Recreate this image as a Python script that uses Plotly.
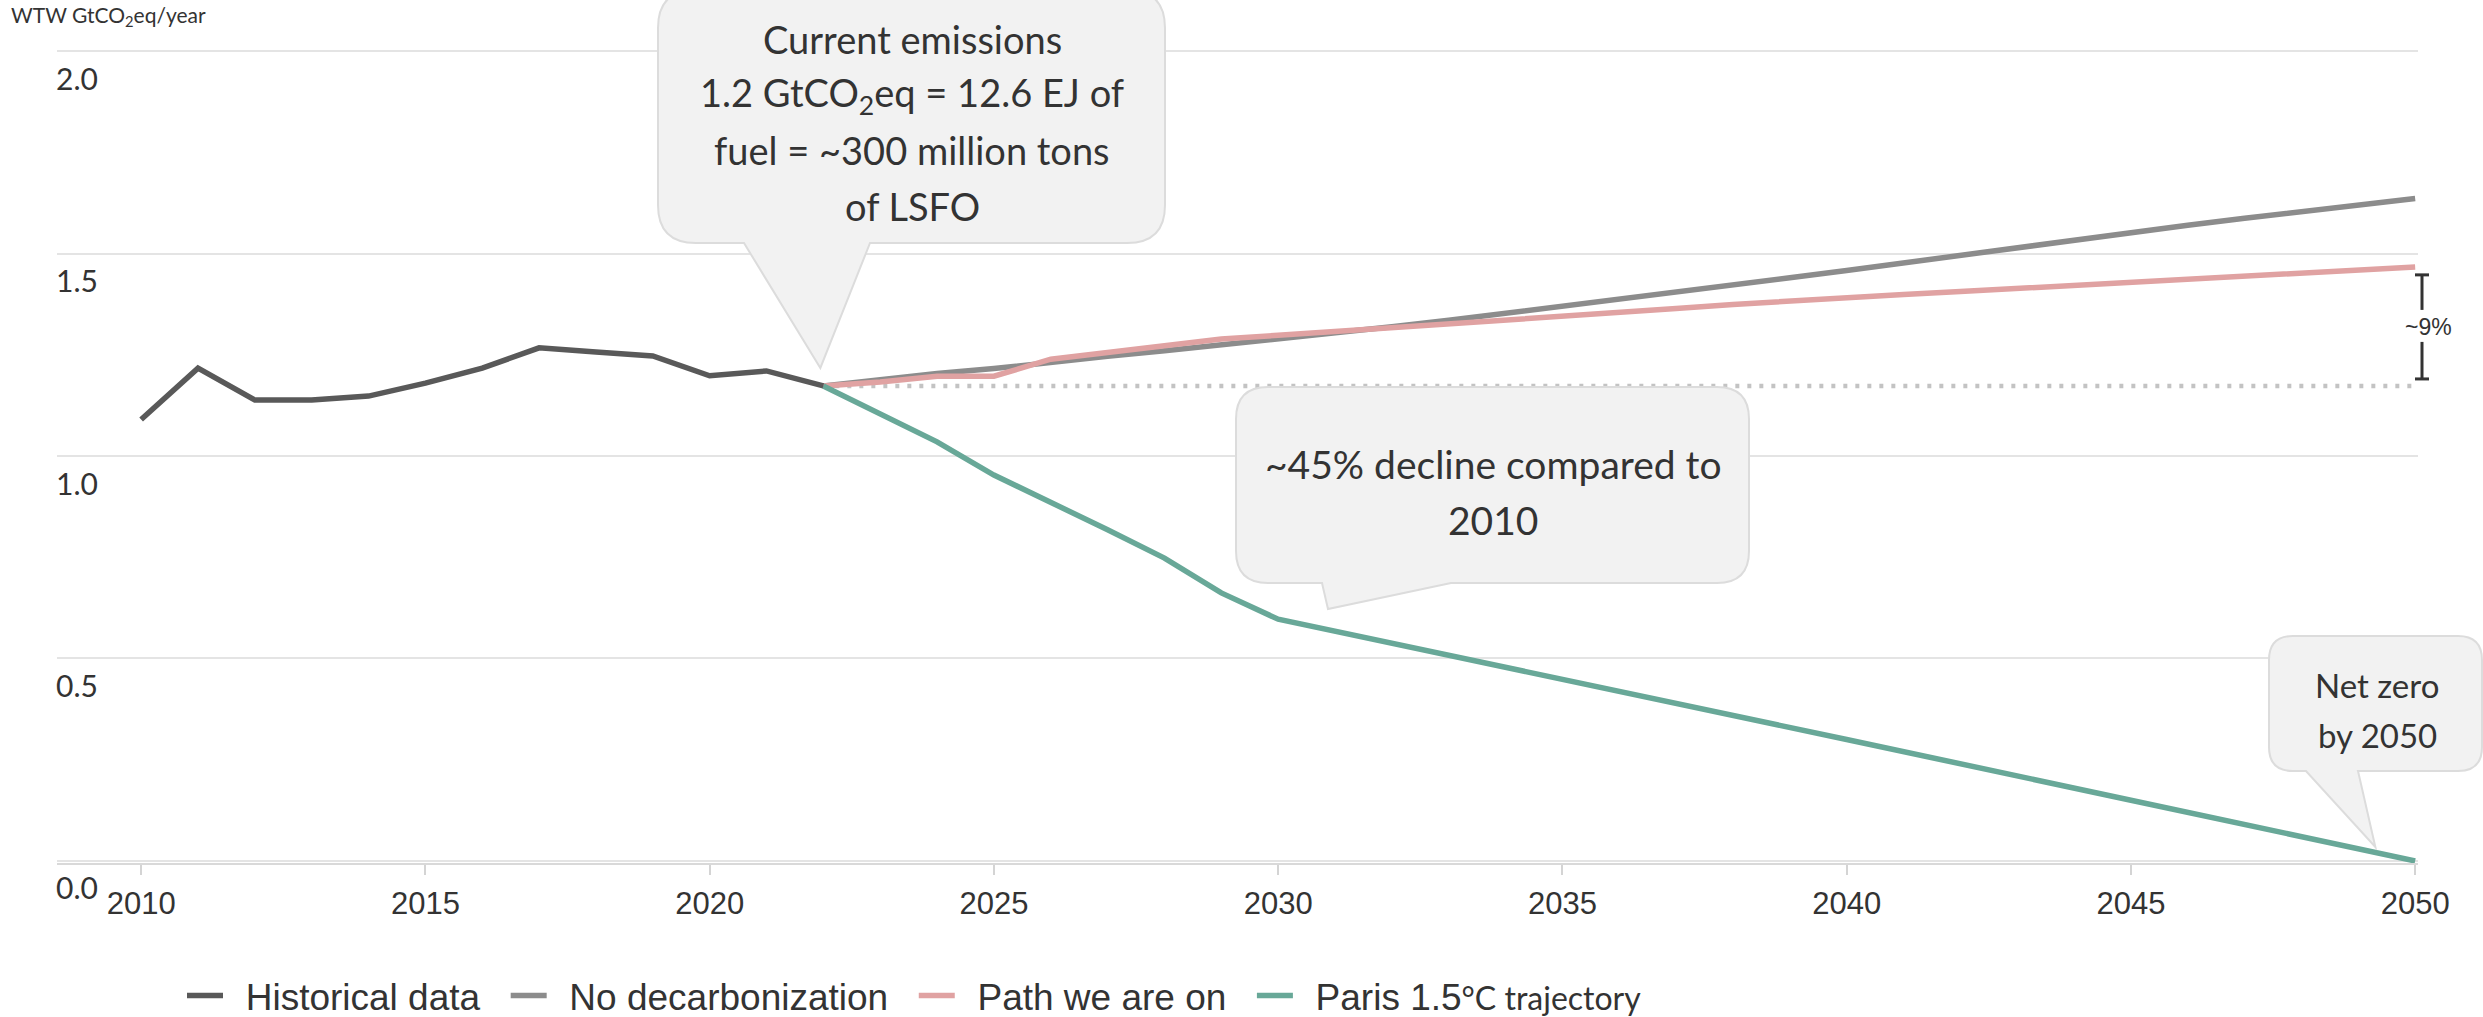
import plotly.graph_objects as go

# ---------------- data ----------------
years_hist = list(range(2010, 2023))
historical = [1.090, 1.217, 1.138, 1.138, 1.148, 1.180, 1.217, 1.267, 1.257, 1.247, 1.198, 1.210, 1.173]

years_proj = list(range(2022, 2051))
no_decarbonization = [1.173, 1.190, 1.204, 1.216, 1.232, 1.246, 1.260, 1.274, 1.289, 1.304,
                      1.319, 1.335, 1.352, 1.369, 1.386, 1.404, 1.422, 1.440, 1.458, 1.477,
                      1.496, 1.515, 1.534, 1.552, 1.570, 1.587, 1.604, 1.620, 1.636]
path_we_are_on = [1.173, 1.183, 1.197, 1.197, 1.239, 1.256, 1.274, 1.289, 1.298, 1.307,
                  1.317, 1.326, 1.336, 1.345, 1.355, 1.364, 1.374, 1.383, 1.391, 1.399,
                  1.406, 1.414, 1.422, 1.429, 1.437, 1.444, 1.452, 1.459, 1.467]

years_paris = [2022, 2023, 2024, 2025, 2026, 2027, 2028, 2029, 2030, 2035, 2040, 2045, 2050]
paris = [1.173, 1.105, 1.035, 0.953, 0.886, 0.818, 0.748, 0.662, 0.597, 0.450, 0.300, 0.150, 0.000]

x_ticks = [2010, 2015, 2020, 2025, 2030, 2035, 2040, 2045, 2050]
y_ticks = [0.0, 0.5, 1.0, 1.5, 2.0]
y_ticktext = ["0.0", "0.5", "1.0", "1.5", "2.0"]

NB = "\u00a0"
TH = "\u2009"
names = [NB + TH + "Historical data" + NB * 2,
         NB + TH + "No decarbonization" + NB * 2,
         NB + TH + "Path we are on" + NB * 2,
         NB + TH + "Paris 1.5<span style='font-family:Lato;font-size:32px'>°C trajectory</span>"]

# ---------------- layout geometry ----------------
W, H = 2483, 1017
X0, X1 = 2008.52, 2050.05
Y0, Y1 = -0.005, 2.005
ML, MR, MT, MB = 57, 65, 49, 154
PW, PH = W - ML - MR, H - MT - MB


def xpx(v):
    return ML + (v - X0) / (X1 - X0) * PW


def ypx(v):
    return H - MB - (v - Y0) / (Y1 - Y0) * PH


def px_x(p):
    return (p - ML) / PW


def px_y(p):
    return (H - MB - p) / PH


def bubble(l, t, r, b, rad, base1, base2, tip):
    def P(x, y):
        return f"{px_x(x):.6f},{px_y(y):.6f}"
    s = "M" + P(l + rad, t)
    s += " L" + P(r - rad, t)
    s += " Q" + P(r, t) + " " + P(r, t + rad)
    s += " L" + P(r, b - rad)
    s += " Q" + P(r, b) + " " + P(r - rad, b)
    s += " L" + P(base2, b)
    s += " L" + P(tip[0], tip[1])
    s += " L" + P(base1, b)
    s += " L" + P(l + rad, b)
    s += " Q" + P(l, b) + " " + P(l, b - rad)
    s += " L" + P(l, t + rad)
    s += " Q" + P(l, t) + " " + P(l + rad, t)
    s += " Z"
    return s


TEXT = "#333333"
fig = go.Figure()

level = historical[-1]
fig.add_trace(go.Scatter(x=[years_proj[0], years_proj[-1]], y=[level, level], mode="lines",
                         line=dict(color="#c3c3c3", width=4.5, dash="4px,8px"),
                         showlegend=False, hoverinfo="skip"))
fig.add_trace(go.Scatter(x=years_proj, y=no_decarbonization, mode="lines", name=names[1],
                         line=dict(color="#8c8c8c", width=5.5), legendrank=2))
fig.add_trace(go.Scatter(x=years_proj, y=path_we_are_on, mode="lines", name=names[2],
                         line=dict(color="#e0a2a2", width=5.5), legendrank=3))
fig.add_trace(go.Scatter(x=years_paris, y=paris, mode="lines", name=names[3],
                         line=dict(color="#68a898", width=5.5), legendrank=4))
fig.add_trace(go.Scatter(x=years_hist, y=historical, mode="lines", name=names[0],
                         line=dict(color="#595959", width=5.5), legendrank=1))

shapes = []
box_style = dict(type="path", xref="paper", yref="paper", fillcolor="#f2f2f2",
                 line=dict(color="#dcdcdc", width=2), layer="above")
# callout 1 (current emissions) -> points at last historical point
tip1 = (xpx(years_hist[-1]) - 3, ypx(historical[-1]) - 18)
shapes.append(dict(path=bubble(658, -10, 1165, 243, 38, 744, 870, tip1), **box_style))
# callout 2 (~45% decline)
tip2 = (1328, 609)
shapes.append(dict(path=bubble(1236, 387, 1749, 583, 32, 1322, 1451, tip2), **box_style))
# callout 3 (net zero)
tip3 = (xpx(2049.3), ypx(paris[-1]) - 14)
shapes.append(dict(path=bubble(2269, 636, 2482, 771, 24, 2306, 2358, tip3), **box_style))

# ~9% bracket
top_b = ypx(path_we_are_on[-1]) + 8
bot_b = ypx(level) - 7
mid_b = (top_b + bot_b) / 2
bx = 2422
for (ya, yb) in [(top_b, mid_b - 17), (mid_b + 15, bot_b)]:
    shapes.append(dict(type="line", xref="paper", yref="paper", x0=px_x(bx), x1=px_x(bx),
                       y0=px_y(ya), y1=px_y(yb), line=dict(color="#333333", width=3)))
for yy in [top_b, bot_b]:
    shapes.append(dict(type="line", xref="paper", yref="paper", x0=px_x(bx - 7), x1=px_x(bx + 7),
                       y0=px_y(yy), y1=px_y(yy), line=dict(color="#333333", width=3)))

annotations = []


def txt(x, y, s, size, family="Lato", anchor="center"):
    annotations.append(dict(x=px_x(x), y=px_y(y), xref="paper", yref="paper", text=s,
                            showarrow=False, xanchor=anchor, yanchor="middle",
                            font=dict(family=family, size=size, color=TEXT)))


box1_lines = ["Current emissions", "1.2 GtCO<sub>2</sub>eq = 12.6 EJ of",
              "fuel = ~300 million tons", "of LSFO"]
for i, s in enumerate(box1_lines):
    txt(912, 39 + i * 55.7, s, 38)
box2_lines = ["~45% decline compared to", "2010"]
for i, s in enumerate(box2_lines):
    txt(1493, 464 + i * 56, s, 39)
box3_lines = ["Net zero", "by 2050"]
for i, s in enumerate(box3_lines):
    txt(2377, 685 + i * 50, s, 33)

txt(2428, mid_b, "~9%", 23, family="Liberation Sans")
txt(9, 16, "WTW GtCO<sub>2</sub>eq/year", 21, anchor="left")

fig.update_layout(
    width=W, height=H, autosize=False,
    margin=dict(l=ML, r=MR, t=MT, b=MB, pad=0),
    paper_bgcolor="white", plot_bgcolor="white",
    shapes=shapes, annotations=annotations,
    showlegend=True,
    legend=dict(orientation="h", x=px_x(182), xref="paper", xanchor="left",
                y=1 - 996 / H, yref="container", yanchor="middle",
                font=dict(family="Liberation Sans", size=37, color=TEXT),
                bgcolor="rgba(0,0,0,0)", itemwidth=36, tracegroupgap=0),
    hovermode=False,
)
fig.update_xaxes(range=[X0, X1], tickvals=x_ticks, ticks="outside", ticklen=10,
                 tickcolor="#d4d4d4", tickwidth=1.5, showgrid=False, zeroline=False,
                 showline=True, linecolor="#d9d9d9", linewidth=2, automargin=False,
                 tickfont=dict(family="Liberation Sans", size=31, color=TEXT),
                 ticklabelstandoff=2)
fig.update_yaxes(range=[Y0, Y1], tickvals=y_ticks, ticktext=y_ticktext, ticks="",
                 showgrid=True, gridcolor="#e4e4e4", gridwidth=1.5, zeroline=False,
                 showline=False, anchor="free", position=px_x(98),
                 ticklabelposition="outside", ticklabelshift=28,
                 ticklabelstandoff=0, automargin=False,
                 tickfont=dict(family="Lato", size=30, color=TEXT))

fig.write_html("out.html", config={"displayModeBar": False},
               post_script="document.body.style.margin='0';document.body.style.padding='0';")
